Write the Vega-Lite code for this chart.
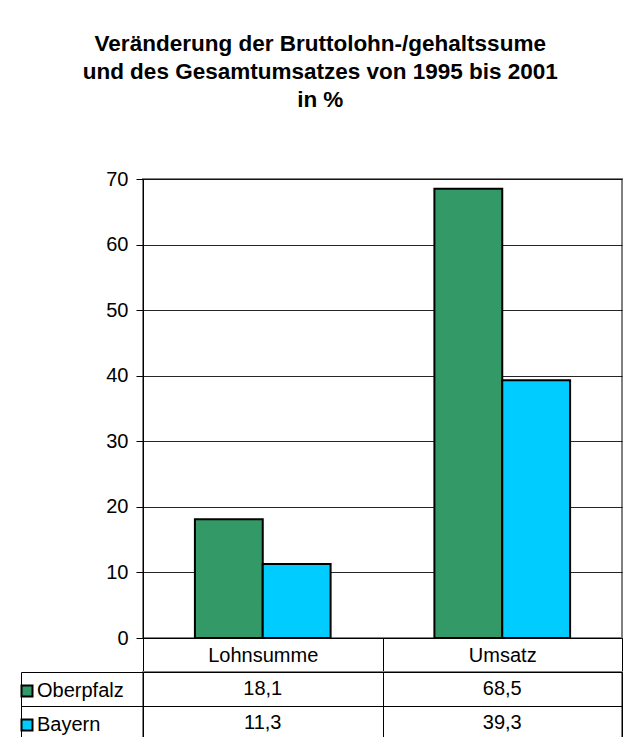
{
  "$schema": "https://vega.github.io/schema/vega-lite/v6.json",
  "padding": {"left": 17, "top": 32, "right": 5, "bottom": 0},
  "background": "white",
  "title": {
    "text": ["Veränderung der Bruttolohn-/gehaltssume", "und des Gesamtumsatzes von 1995 bis 2001", "in %"],
    "font": "Liberation Sans",
    "fontSize": 22.5,
    "fontWeight": "bold",
    "lineHeight": 28,
    "color": "black",
    "anchor": "middle",
    "frame": "bounds",
    "offset": 57
  },
  "config": {
    "font": "Liberation Sans",
    "locale": {"number": {"decimal": ",", "thousands": ".", "grouping": [3], "currency": ["", " €"]}}
  },
  "datasets": {
    "werte": [
      {"Merkmal": "Lohnsumme", "Region": "Oberpfalz", "Wert": 18.1},
      {"Merkmal": "Lohnsumme", "Region": "Bayern", "Wert": 11.3},
      {"Merkmal": "Umsatz", "Region": "Oberpfalz", "Wert": 68.5},
      {"Merkmal": "Umsatz", "Region": "Bayern", "Wert": 39.3}
    ]
  },
  "bounds": "flush",
  "spacing": 34,
  "vconcat": [
    {
      "width": 479,
      "height": 459,
      "view": {"stroke": "#808080", "strokeWidth": 2},
      "data": {"name": "werte"},
      "mark": {"type": "bar", "stroke": "black", "strokeWidth": 2},
      "encoding": {
        "x": {
          "field": "Merkmal", "type": "nominal", "sort": ["Lohnsumme", "Umsatz"],
          "scale": {"paddingInner": 0, "paddingOuter": 0},
          "axis": {"title": null, "labelAngle": 0, "labelFontSize": 20, "labelColor": "black", "domainColor": "black", "tickBand": "extent", "tickSize": 34, "tickColor": "black", "labelBaseline": "middle", "labelPadding": -17}
        },
        "xOffset": {"field": "Region", "sort": ["Oberpfalz", "Bayern"], "scale": {"paddingInner": 0, "paddingOuter": 0.765}},
        "y": {
          "field": "Wert", "type": "quantitative",
          "scale": {"domain": [0, 70], "nice": false},
          "axis": {"title": null, "values": [0, 10, 20, 30, 40, 50, 60, 70], "labelFontSize": 20, "labelColor": "black", "domainColor": "black", "tickColor": "black", "tickSize": 7, "labelPadding": 8, "gridColor": "black", "gridOpacity": 0.85}
        },
        "color": {
          "field": "Region", "type": "nominal",
          "scale": {"domain": ["Oberpfalz", "Bayern"], "range": ["#339966", "#00ccff"]},
          "legend": {"orient": "none", "legendX": -126, "legendY": 502, "title": null, "symbolType": "square", "symbolSize": 121, "symbolStrokeColor": "black", "symbolStrokeWidth": 2, "symbolOpacity": 1, "labelFontSize": 20, "labelColor": "black", "labelOffset": 0, "rowPadding": 14, "padding": 0}
        }
      }
    },
    {
      "width": 479,
      "height": 68,
      "view": {"stroke": "#808080", "strokeWidth": 2},
      "data": {"name": "werte"},
      "mark": {"type": "text", "fontSize": 20, "color": "black"},
      "encoding": {
        "x": {
          "field": "Merkmal", "type": "nominal", "sort": ["Lohnsumme", "Umsatz"],
          "scale": {"paddingInner": 0, "paddingOuter": 0},
          "axis": {"orient": "top", "title": null, "labels": false, "ticks": false, "domain": false, "grid": true, "tickBand": "extent", "gridColor": "black", "gridOpacity": 1}
        },
        "y": {
          "field": "Region", "type": "nominal", "sort": ["Oberpfalz", "Bayern"],
          "scale": {"paddingInner": 0, "paddingOuter": 0},
          "axis": {"title": null, "labels": false, "grid": true, "tickBand": "extent", "gridColor": "black", "gridOpacity": 1, "offset": 122, "tickSize": -122, "tickColor": "black", "domainColor": "black"}
        },
        "text": {"field": "Wert", "type": "quantitative", "format": ".1f"}
      }
    }
  ]
}
